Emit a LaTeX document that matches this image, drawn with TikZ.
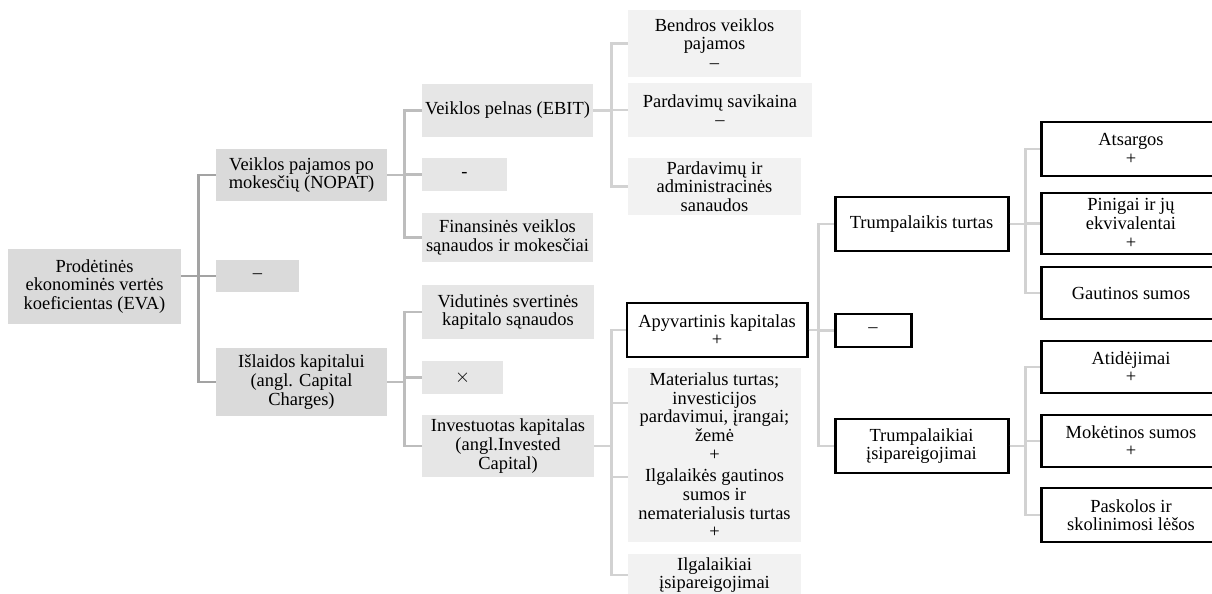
\documentclass[tikz,border=0pt]{standalone}
\usepackage{fontspec}
\setmainfont{Liberation Serif}
\usepackage{tikz}
\usetikzlibrary{positioning}

\definecolor{fillA}{HTML}{DADADA}
\definecolor{fillB}{HTML}{E6E6E6}
\definecolor{fillC}{HTML}{F2F2F2}
\definecolor{lineA}{HTML}{A3A3A3}
\definecolor{lineB}{HTML}{BDBDBD}
\definecolor{lineC}{HTML}{D2D2D2}

\begin{document}
\begin{tikzpicture}[
				x=0.2mm, y=-0.2mm,
				every node/.style={align=center, inner sep=0pt, font=\fontsize{10.5}{10.6}\selectfont},
				sz/.style 2 args={minimum width=#1*0.2mm, minimum height=#2*0.2mm},
				lvlone/.style={fill=fillA},
				lvltwo/.style={fill=fillB},
				lvlthree/.style={fill=fillC},
				blackbox/.style={draw=black, line width=1.7pt, fill=white},
				linkA/.style={draw=lineA, line width=1.5pt},
				linkB/.style={draw=lineB, line width=1.5pt},
				linkC/.style={draw=lineC, line width=1.5pt}
			]

			\useasboundingbox (0,0) rectangle (1212,594);

			% Nodes, first level
			\node[lvlone, sz={173}{75}] (eva) at (94.5,286.5) {Prodėtinės\\ekonominės vertės\\koeficientas (EVA)};
			\node[lvlone, sz={171}{52}] (nopat) at (301.5,175) {Veiklos pajamos po\\mokesčių (NOPAT)};
			\node[lvlone, sz={83}{32}] (minusA) at (257.5,276) {–};
			\node[lvlone, sz={171}{68}] (islaidos) at (301.5,382) {Išlaidos kapitalui\\(angl. Capital\\Charges)};

			% Nodes, second level
			\node[lvltwo, sz={171}{53}] (ebit) at (507.5,110.5) {Veiklos pelnas (EBIT)};
			\node[lvltwo, sz={85}{33}] (minusB) at (464.5,174.5) {-};
			\node[lvltwo, sz={171}{49}] (finans) at (507.5,237.5) {Finansinės veiklos\\sąnaudos ir mokesčiai};
			\node[lvltwo, sz={172}{54}] (vidut) at (508,312) {Vidutinės svertinės\\kapitalo sąnaudos};
			\node[lvltwo, sz={81}{33}] (times) at (462.5,377.5) {$\times$};
			\node[lvltwo, sz={172}{62}] (invest) at (508,446) {Investuotas kapitalas\\(angl.Invested\\Capital)};

			% Nodes, third level
			\node[lvlthree, sz={173}{67}] (bendros) at (714.5,43.5) {Bendros veiklos\\pajamos\\–};
			\node[lvlthree, sz={184}{54}] (pardsav) at (720,110) {Pardavimų savikaina\\–};
			\node[lvlthree, sz={173}{57}] (pardadm) at (714.5,186.5) {Pardavimų ir\\administracinės\\sanaudos};
			\node[blackbox, sz={180}{54}] (apyv) at (717,330) {Apyvartinis kapitalas\\+};
			\node[lvlthree, sz={173}{97}] (matA) at (714.5,416.5) {Materialus turtas;\\investicijos\\pardavimui, įrangai;\\žemė\\+};
			\node[lvlthree, sz={173}{77}] (matB) at (714.5,503.5) {Ilgalaikės gautinos\\sumos ir\\nematerialusis turtas\\+};
			\node[lvlthree, sz={173}{42}] (ilgal) at (714.5,575) {Ilgalaikiai\\įsipareigojimai};

			% Nodes, working capital
			\node[blackbox, sz={173}{54}] (trt) at (921.5,224) {Trumpalaikis turtas};
			\node[blackbox, sz={76}{33}] (minusC) at (873,330.5) {–};
			\node[blackbox, sz={173}{54}] (trisp) at (921.5,446) {Trumpalaikiai\\įsipareigojimai};

			\node[blackbox, sz={180}{54}] (atsargos) at (1131,149) {Atsargos\\+};
			\node[blackbox, sz={180}{61}] (pinigai) at (1131,223.5) {Pinigai ir jų\\ekvivalentai\\+};
			\node[blackbox, sz={180}{52}] (gautinos) at (1131,293) {Gautinos sumos};
			\node[blackbox, sz={180}{52}] (atidej) at (1131,367) {Atidėjimai\\+};
			\node[blackbox, sz={180}{52}] (moket) at (1131,441) {Mokėtinos sumos\\+};
			\node[blackbox, sz={180}{54}] (paskolos) at (1131,515) {Paskolos ir\\skolinimosi lėšos};

			% Connectors
			\foreach \c in {nopat, minusA, islaidos}
				\draw[linkA] (eva.east |- minusA.west) -- ++(17,0) |- (\c.west);
			\foreach \c in {ebit, minusB, finans}
				\draw[linkB] (nopat.east) -- ++(17,0) |- (\c.west);
			\foreach \c in {vidut, times, invest}
				\draw[linkB] (islaidos.east) -- ++(17,0) |- (\c.west);
			\foreach \c in {bendros, pardsav, pardadm}
				\draw[linkC] (ebit.east) -- ++(18,0) |- (\c.west);
			\foreach \c in {apyv, ilgal}
				\draw[linkC] (invest.east) -- ++(17,0) |- (\c.west);
			\draw[linkC] (invest.east) -- ++(17,0) |- ([yshift=2.7mm]matA.west);
			\draw[linkC] (invest.east) -- ++(17,0) |- ([yshift=5.3mm]matB.west);
			\foreach \c in {trt, minusC, trisp}
				\draw[linkC] (apyv.east) -- ++(10,0) |- (\c.west);
			\foreach \c in {atsargos, pinigai, gautinos}
				\draw[linkC] (trt.east) -- ++(16,0) |- (\c.west);
			\foreach \c in {atidej, moket, paskolos}
				\draw[linkC] (trisp.east) -- ++(16,0) |- (\c.west);

		\end{tikzpicture}
\end{document}
